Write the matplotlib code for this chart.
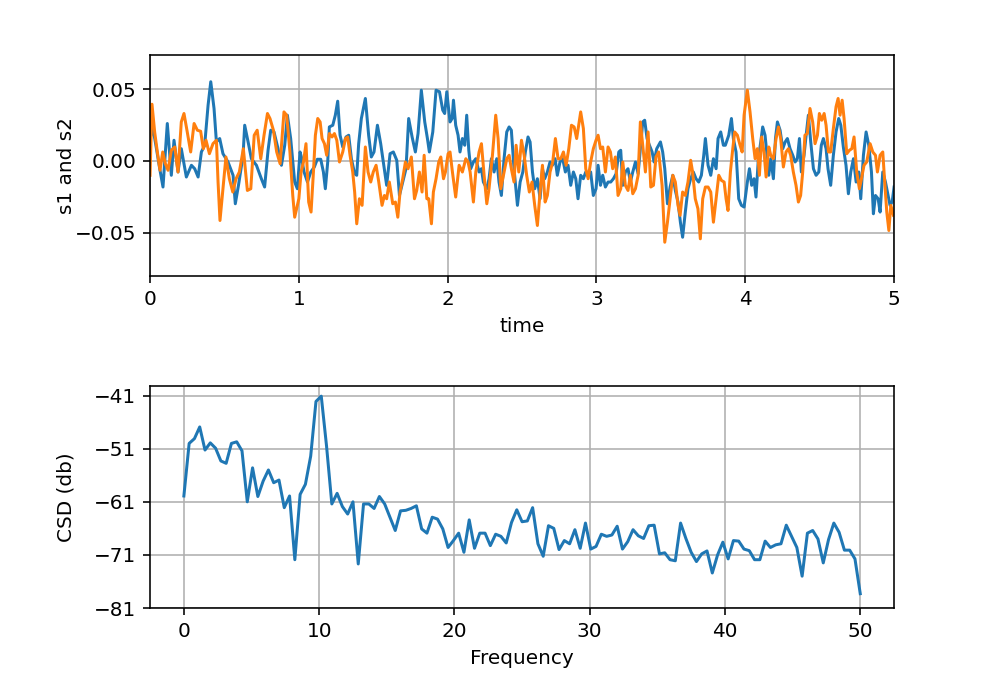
import numpy as np
import matplotlib
matplotlib.use("Agg")
import matplotlib.pyplot as plt

# s1 (blue)
t1 = [0, 0.02, 0.043, 0.065, 0.087, 0.116, 0.143, 0.161, 0.188, 0.21, 0.244, 0.278, 0.30, 0.323,
      0.345, 0.367, 0.39, 0.408, 0.43, 0.446, 0.468, 0.49, 0.524, 0.558, 0.573, 0.596, 0.625, 0.636,
      0.659, 0.681, 0.715, 0.748, 0.77, 0.793, 0.811, 0.833, 0.86, 0.883, 0.905, 0.923, 0.945, 0.972,
      0.99, 1.008, 1.017, 1.035, 1.058, 1.08, 1.104, 1.124, 1.147, 1.165, 1.178, 1.194, 1.205, 1.228,
      1.245, 1.261, 1.277, 1.295, 1.317, 1.335, 1.353, 1.375, 1.389, 1.402, 1.42, 1.447, 1.469, 1.487,
      1.505, 1.528, 1.55, 1.572, 1.59, 1.613, 1.635, 1.658, 1.676, 1.698, 1.72, 1.738, 1.761, 1.783,
      1.801, 1.823, 1.846, 1.864, 1.877, 1.9, 1.922, 1.945, 1.967, 1.98, 1.994, 2.016, 2.03, 2.039,
      2.054, 2.07, 2.083, 2.099, 2.115, 2.128, 2.142, 2.155, 2.173, 2.189, 2.211, 2.227, 2.24, 2.263,
      2.278, 2.294, 2.312, 2.33, 2.345, 2.361, 2.379, 2.397, 2.413, 2.428, 2.446, 2.469, 2.487, 2.505,
      2.522, 2.54, 2.554, 2.57, 2.585, 2.603, 2.621, 2.637, 2.652, 2.67, 2.688, 2.704, 2.722, 2.737,
      2.755, 2.773, 2.791, 2.809, 2.827, 2.845, 2.861, 2.876, 2.894, 2.912, 2.928, 2.944, 2.961, 2.979,
      2.997, 3.011, 3.027, 3.042, 3.06, 3.078, 3.096, 3.114, 3.132, 3.15, 3.163, 3.177, 3.194, 3.212,
      3.228, 3.244, 3.262, 3.28, 3.295, 3.311, 3.324, 3.34, 3.356, 3.374, 3.387, 3.405, 3.43, 3.445,
      3.459, 3.477, 3.495, 3.513, 3.53, 3.548, 3.564, 3.579, 3.597, 3.615, 3.633, 3.651, 3.669, 3.687,
      3.705, 3.721, 3.732, 3.75, 3.768, 3.786, 3.804, 3.817, 3.835, 3.853, 3.866, 3.889, 3.907, 3.92,
      3.938, 3.956, 3.974, 3.992, 4.014, 4.028, 4.043, 4.059, 4.072, 4.088, 4.104, 4.117, 4.133, 4.144,
      4.158, 4.171, 4.189, 4.203, 4.216, 4.234, 4.252, 4.268, 4.283, 4.301, 4.319, 4.335, 4.35, 4.364,
      4.377, 4.395, 4.409, 4.424, 4.44, 4.458, 4.476, 4.494, 4.511, 4.525, 4.543, 4.556, 4.574, 4.592,
      4.61, 4.628, 4.642, 4.659, 4.677, 4.693, 4.709, 4.727, 4.745, 4.763, 4.776, 4.794, 4.812, 4.83,
      4.848, 4.861, 4.875, 4.893, 4.906, 4.924, 4.942, 4.96, 4.973, 4.987, 5.0]
s1 = [0.0157, 0.0227, 0.0086, -0.0054, -0.0182, 0.0262, -0.0100, 0.0145, -0.0077, 0.0086, -0.0112,
      -0.0030, -0.0054, -0.0112, 0.0063, 0.0110, 0.0390, 0.0554, 0.0367, 0.0133, 0.0157, 0.0051,
      -0.0007, -0.0100, -0.0299, -0.0159, 0.0040, 0.0250, 0.0133, 0.0016, -0.0030, -0.0124, -0.0182,
      0.0075, 0.0215, 0.0203, 0.0086, -0.0030, 0.0110, 0.0320, 0.0157, -0.0147, -0.0194, 0.0063,
      0.0028, -0.0077, -0.0147, -0.0077, -0.0042, 0.0012, 0.0012, -0.0077, -0.0194, -0.0007, 0.0238,
      0.0250, 0.0320, 0.0418, 0.0180, 0.0098, 0.0168, 0.0180, 0.0016, -0.0089, -0.0100, 0.0121,
      0.0297, 0.0437, 0.0180, 0.0028, 0.0063, 0.0250, 0.0121, -0.0042, -0.0170, 0.0051, 0.0063,
      0.0005, -0.0241, -0.0147, -0.0054, 0.0297, 0.0168, 0.0063, 0.0192, 0.0495, 0.0273, 0.0157,
      0.0063, 0.0203, 0.0495, 0.0484, 0.0355, 0.0332, 0.0484, 0.0273, 0.0297, 0.0425, 0.0250, 0.0180,
      0.0063, 0.0157, 0.0110, 0.0320, 0.0075, -0.0054, -0.0007, 0.0016, -0.0077, -0.0054, -0.0147,
      -0.0194, -0.0124, 0.0016, -0.0077, 0.0016, -0.0147, -0.0241, 0.0016, 0.0203, 0.0238, 0.0215,
      -0.0054, -0.0310, -0.0147, -0.0077, 0.0063, 0.0168, 0.0133, -0.0077, -0.0194, -0.0124, -0.0264,
      -0.0054, -0.0124, -0.0077, -0.0007, -0.0030, 0.0016, -0.0100, -0.0007, 0.0016, -0.0077, -0.0030,
      -0.0170, -0.0077, -0.0124, -0.0264, -0.0100, -0.0124, -0.0077, -0.0100, -0.0077, -0.0241,
      -0.0194, -0.0030, -0.0170, -0.0100, -0.0182, -0.0147, -0.0147, -0.0124, -0.0089, 0.0063, 0.0075,
      -0.0170, -0.0077, -0.0054, -0.0147, -0.0077, -0.0007, -0.0089, 0.0086, 0.0273, 0.0285, 0.0157,
      0.0110, 0.0063, -0.0007, 0.0086, 0.0133, 0.0063, -0.0054, -0.0299, -0.0182, -0.0100, -0.0206,
      -0.0287, -0.0428, -0.0533, -0.0357, -0.0194, -0.0124, -0.0077, -0.0124, -0.0147, -0.0100,
      0.0040, 0.0157, -0.0030, -0.0100, 0.0016, -0.0054, 0.0157, 0.0203, 0.0110, 0.0110, 0.0180,
      0.0297, 0.0157, 0.0063, -0.0264, -0.0310, -0.0322, -0.0147, -0.0054, -0.0170, -0.0124, -0.0252,
      0.0016, 0.0133, 0.0238, 0.0180, 0.0063, -0.0100, 0.0016, -0.0124, 0.0157, 0.0273, 0.0215,
      0.0086, 0.0133, 0.0157, 0.0086, 0.0040, -0.0007, 0.0016, 0.0157, -0.0077, 0.0040, 0.0180,
      0.0320, 0.0133, -0.0054, -0.0100, -0.0077, 0.0110, 0.0157, 0.0086, -0.0054, -0.0170, 0.0040,
      0.0203, 0.0297, 0.0250, 0.0098, -0.0030, -0.0229, -0.0077, 0.0016, -0.0147, -0.0077, -0.0264,
      0.0040, 0.0203, 0.0110, -0.0077, -0.0369, -0.0241, -0.0264, -0.0357, -0.0077, -0.0147, -0.0241,
      -0.0310, -0.0287, -0.0182]

# s2 (orange)
t2 = [0, 0.013, 0.031, 0.049, 0.067, 0.085, 0.103, 0.121, 0.143, 0.166, 0.188, 0.21, 0.228, 0.25,
      0.273, 0.296, 0.318, 0.34, 0.358, 0.376, 0.399, 0.423, 0.446, 0.457, 0.47, 0.488, 0.51, 0.533,
      0.556, 0.578, 0.6, 0.627, 0.654, 0.677, 0.7, 0.72, 0.744, 0.766, 0.789, 0.806, 0.829, 0.851,
      0.874, 0.9, 0.918, 0.94, 0.959, 0.972, 0.99, 1.0, 1.015, 1.031, 1.048, 1.066, 1.082, 1.098,
      1.111, 1.127, 1.143, 1.156, 1.172, 1.187, 1.205, 1.223, 1.239, 1.255, 1.273, 1.295, 1.313,
      1.328, 1.344, 1.362, 1.375, 1.389, 1.407, 1.425, 1.447, 1.465, 1.483, 1.5, 1.519, 1.537, 1.559,
      1.575, 1.59, 1.608, 1.631, 1.649, 1.665, 1.68, 1.698, 1.716, 1.734, 1.756, 1.777, 1.792, 1.81,
      1.828, 1.842, 1.86, 1.873, 1.891, 1.904, 1.922, 1.94, 1.954, 1.972, 1.985, 2.003, 2.016, 2.032,
      2.054, 2.077, 2.099, 2.122, 2.137, 2.151, 2.173, 2.189, 2.211, 2.227, 2.245, 2.263, 2.278, 2.301,
      2.323, 2.339, 2.357, 2.375, 2.397, 2.413, 2.428, 2.446, 2.46, 2.478, 2.496, 2.514, 2.531, 2.549,
      2.567, 2.585, 2.603, 2.621, 2.637, 2.655, 2.67, 2.688, 2.706, 2.724, 2.742, 2.76, 2.778, 2.796,
      2.814, 2.832, 2.85, 2.867, 2.894, 2.912, 2.928, 2.944, 2.961, 2.979, 2.997, 3.011, 3.027, 3.042,
      3.06, 3.078, 3.094, 3.109, 3.127, 3.145, 3.163, 3.177, 3.194, 3.212, 3.228, 3.244, 3.262, 3.28,
      3.295, 3.311, 3.329, 3.347, 3.365, 3.383, 3.4, 3.418, 3.441, 3.459, 3.477, 3.495, 3.513, 3.53,
      3.548, 3.562, 3.579, 3.597, 3.615, 3.633, 3.646, 3.664, 3.682, 3.698, 3.714, 3.732, 3.75, 3.768,
      3.786, 3.804, 3.822, 3.84, 3.858, 3.871, 3.884, 3.9, 3.916, 3.929, 3.947, 3.965, 3.979, 3.992,
      4.014, 4.032, 4.05, 4.066, 4.081, 4.095, 4.11, 4.126, 4.14, 4.158, 4.171, 4.189, 4.207, 4.223,
      4.238, 4.256, 4.274, 4.29, 4.305, 4.323, 4.341, 4.357, 4.372, 4.386, 4.401, 4.417, 4.435, 4.453,
      4.469, 4.485, 4.498, 4.514, 4.53, 4.543, 4.559, 4.574, 4.592, 4.61, 4.624, 4.637, 4.651, 4.664,
      4.682, 4.7, 4.716, 4.731, 4.749, 4.767, 4.781, 4.798, 4.816, 4.839, 4.857, 4.875, 4.888, 4.906,
      4.924, 4.937, 4.951, 4.965, 4.978, 4.996]
s2 = [-0.0100, 0.0397, 0.0203, 0.0063, -0.0065, 0.0063, -0.0019, -0.0065, 0.0075, 0.0098, -0.0077,
      0.0273, 0.0332, 0.0203, 0.0063, 0.0262, 0.0215, 0.0208, 0.0086, 0.0145, 0.0051, 0.0121, 0.0145,
      -0.0147, -0.0416, -0.0217, 0.0028, -0.0124, -0.0217, -0.0124, -0.0077, 0.0086, -0.0206, -0.0194,
      0.0180, 0.0215, 0.0016, 0.0180, 0.0332, 0.0297, 0.0215, 0.0063, -0.0019, 0.0343, 0.0320, 0.0063,
      -0.0241, -0.0393, -0.0310, -0.0264, -0.0077, -0.0007, 0.0121, -0.0287, -0.0357, -0.0077, 0.0180,
      0.0297, 0.0273, 0.0157, 0.0121, 0.0040, 0.0192, 0.0168, 0.0192, 0.0145, -0.0007, 0.0063, 0.0157,
      0.0168, 0.0040, -0.0077, -0.0217, -0.0439, -0.0264, -0.0310, 0.0098, -0.0077, -0.0147, -0.0077,
      -0.0030, -0.0147, -0.0310, -0.0241, -0.0264, -0.0147, -0.0299, -0.0287, -0.0393, -0.0217,
      -0.0124, -0.0007, -0.0054, 0.0028, -0.0264, -0.0206, -0.0077, -0.0217, 0.0040, -0.0264, -0.0264,
      -0.0439, -0.0217, -0.0124, -0.0007, 0.0028, -0.0124, -0.0077, 0.0051, 0.0063, -0.0077, -0.0252,
      -0.0030, -0.0077, 0.0016, -0.0007, -0.0077, -0.0287, -0.0077, 0.0063, 0.0121, -0.0100, -0.0299,
      -0.0194, 0.0040, 0.0320, 0.0157, -0.0194, -0.0100, 0.0016, 0.0040, -0.0054, -0.0147, 0.0110,
      -0.0077, 0.0145, 0.0040, -0.0100, -0.0217, -0.0147, -0.0310, -0.0451, -0.0217, -0.0030, -0.0287,
      -0.0241, -0.0077, -0.0007, 0.0157, 0.0016, 0.0016, 0.0063, -0.0030, 0.0086, 0.0250, 0.0238,
      0.0157, 0.0343, 0.0227, -0.0054, -0.0124, -0.0007, 0.0086, 0.0145, 0.0180, 0.0086, 0.0098,
      -0.0077, 0.0098, 0.0063, -0.0054, 0.0028, -0.0241, -0.0194, -0.0007, -0.0170, -0.0206, -0.0100,
      -0.0229, -0.0194, -0.0100, 0.0273, 0.0110, -0.0077, 0.0203, -0.0182, -0.0170, 0.0028, 0.0063,
      -0.0170, -0.0568, -0.0428, -0.0264, -0.0100, -0.0147, -0.0310, -0.0380, -0.0217, -0.0241,
      -0.0147, 0.0005, -0.0077, -0.0264, -0.0334, -0.0544, -0.0264, -0.0182, -0.0182, -0.0217,
      -0.0428, -0.0264, -0.0100, -0.0136, -0.0147, -0.0264, -0.0346, -0.0077, 0.0086, 0.0203, 0.0180,
      0.0110, 0.0063, 0.0320, 0.0495, 0.0343, 0.0157, 0.0016, 0.0086, -0.0100, 0.0168, 0.0063, -0.0112,
      0.0098, 0.0040, 0.0016, 0.0157, 0.0238, 0.0157, -0.0042, 0.0063, 0.0086, 0.0040, -0.0077,
      -0.0170, -0.0287, -0.0241, -0.0077, 0.0180, 0.0192, 0.0367, 0.0273, 0.0121, 0.0180, 0.0332,
      0.0285, 0.0332, 0.0250, 0.0063, 0.0063, 0.0227, 0.0379, 0.0437, 0.0320, 0.0425, 0.0297, 0.0051,
      0.0075, 0.0086, 0.0168, -0.0077, -0.0194, -0.0124, -0.0030, -0.0007, 0.0121, 0.0063, 0.0040,
      -0.0077, 0.0040, 0.0063, -0.0147, -0.0357, -0.0486, -0.0310, -0.0380]

# cross spectral density in dB, 129 bins from 0 to 50 Hz
csd_db = [-59.9, -50.0, -49.1, -46.9, -51.25, -49.9, -50.9, -53.3, -53.75, -50.0, -49.7, -51.4,
          -61.0, -54.6, -60.0, -57.1, -55.0, -57.4, -56.9, -62.1, -59.9, -71.9, -59.6, -57.7, -52.4,
          -42.1, -41.1, -50.5, -61.4, -59.4, -61.9, -63.3, -61.0, -72.7, -61.4, -61.4, -62.25, -60.0,
          -61.4, -63.9, -66.4, -62.7,
          -62.6, -62.25, -61.75, -66.1, -66.9, -63.9, -64.25, -66.1, -69.6, -68.3, -66.9, -70.5,
          -64.4, -69.75, -66.9, -66.9, -69.25, -67.1, -67.5, -68.75, -64.9, -62.5, -64.75, -64.6,
          -62.1, -68.9, -71.25, -65.5, -66.0, -70.0, -68.3, -68.9, -66.25, -69.75, -65.0, -69.9,
          -69.4, -67.1, -67.5, -67.25, -65.6, -69.9, -68.5, -66.25, -67.4, -67.9, -65.5,
          -65.4, -70.8, -70.6, -71.9, -72.1, -65.0, -67.9, -70.5, -72.25, -70.8, -70.25, -74.4,
          -71.0, -68.6, -71.75, -68.3, -68.4, -69.9, -70.2, -71.9, -71.9, -68.4, -69.6, -69.1,
          -68.9, -65.4, -67.5, -69.6, -75.0, -66.9, -66.4, -68.0, -72.5, -68.1, -65.0, -66.75,
          -70.1, -70.1, -71.75, -78.3]
freqs = np.linspace(0, 50, len(csd_db))

csd_ticks = [-41, -51, -61, -71, -81]
time_ticks = [-0.05, 0.0, 0.05]

fig = plt.figure(figsize=(1003 / 144, 690 / 144), dpi=144)
ax1 = fig.add_axes([0.1496, 0.6, 0.7418, 0.3203])
ax2 = fig.add_axes([0.1496, 0.1188, 0.7418, 0.3217])

ax1.plot(t1, s1)
ax1.plot(t2, s2)
ax1.set_xlim(0, 5)
ax1.set_ylim(-0.0804, 0.0741)
ax1.set_yticks(time_ticks)
ax1.set_xlabel("time")
ax1.set_ylabel("s1 and s2")
ax1.yaxis.set_label_coords(-0.1, 0.5)
ax1.grid(True)

ax2.plot(freqs, csd_db)
ax2.set_yticks(csd_ticks)
ax2.set_ylim(-81, -39.2)
ax2.set_xlabel("Frequency")
ax2.set_ylabel("CSD (db)")
ax2.yaxis.set_label_coords(-0.1, 0.5)
ax2.grid(True)

fig.savefig("out.png", dpi=144)
